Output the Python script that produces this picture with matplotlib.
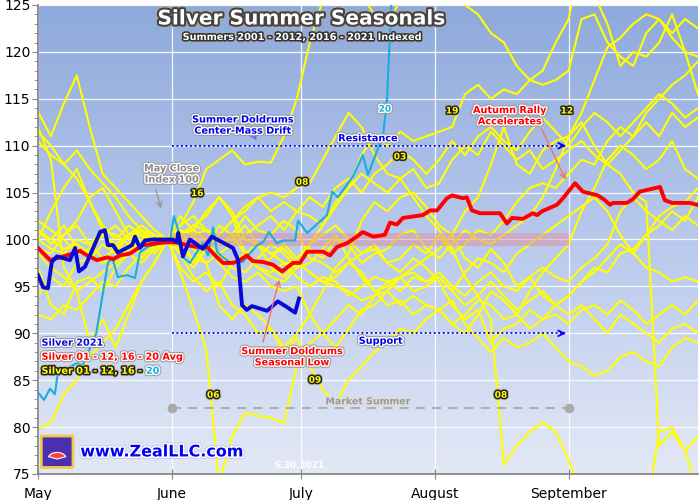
import matplotlib
matplotlib.use("Agg")
import matplotlib.pyplot as plt
import matplotlib.patheffects as pe
import numpy as np
from matplotlib.colors import LinearSegmentedColormap
from matplotlib.patches import FancyBboxPatch, Wedge

# x positions are calendar days after the last April close (May 1 = 0)
month_ticks = [0, 31, 61, 92, 123]
month_labels = ["May", "June", "July", "August", "September"]

# yellow years share one coarse grid, every 3 days
grid_days = list(range(0, 154, 3))

y01 = [99.0, 98.5, 100.5, 101.5, 99.5, 98.0, 99.0, 100.5, 101.0, 99.5, 100.0,
       99.0, 98.0, 99.5, 98.5, 97.5, 98.5, 97.0, 96.5, 97.5, 96.0,
       95.0, 96.0, 95.5, 94.0, 95.0, 96.0, 95.5, 94.5, 96.0, 95.5,
       96.5, 95.0, 94.0, 95.5, 96.5, 95.0, 94.5, 96.0, 97.0, 96.0,
       95.5, 97.0, 98.0, 99.5, 103.0, 104.5, 103.0, 102.0, 101.0, 102.5, 101.5]
y02 = [92.0, 91.5, 93.0, 92.5, 94.0, 95.5, 95.0, 97.0, 98.5, 99.0, 100.0,
       99.0, 98.0, 97.5, 98.5, 97.0, 96.5, 98.0, 99.5, 98.5, 97.0,
       97.5, 99.0, 100.5, 98.0, 96.0, 94.5, 93.0, 93.5, 92.0, 93.0,
       92.5, 91.0, 92.0, 93.5, 93.0, 91.5, 92.0, 90.5, 91.5, 92.0,
       91.0, 92.5, 93.0, 92.0, 93.5, 92.5, 91.0, 92.0, 93.0, 92.0, 93.5]
y03 = [102.0, 101.0, 100.0, 98.5, 99.0, 100.5, 99.5, 100.5, 101.0, 100.0, 100.0,
       101.0, 100.5, 99.0, 98.5, 99.5, 100.5, 101.5, 102.5, 101.0, 103.0,
       104.5, 103.5, 105.5, 106.5, 105.0, 107.0, 108.0, 109.5, 108.5, 107.0,
       108.5, 110.5, 109.0, 111.0, 112.0, 110.5, 109.5, 111.5, 113.0, 111.5,
       110.0, 112.0, 113.5, 112.5, 111.0, 112.5, 114.0, 115.5, 114.5, 113.0, 114.0]
y04 = [97.0, 93.0, 92.0, 95.5, 96.0, 94.5, 97.0, 98.5, 97.5, 99.0, 100.0,
       97.0, 95.5, 96.5, 95.0, 97.5, 98.5, 97.0, 96.0, 95.5, 97.0,
       99.5, 101.5, 104.0, 105.5, 107.0, 106.0, 105.0, 106.5, 107.5, 105.5,
       106.0, 108.5, 110.0, 109.0, 111.5, 110.0, 108.5, 109.5, 107.5, 108.5,
       109.5, 110.5, 109.0, 108.0, 109.5, 111.0, 112.5, 111.0, 113.5, 112.0, 113.0]
y05 = [94.0, 96.0, 95.0, 97.5, 98.0, 99.5, 98.5, 100.5, 101.5, 100.5, 100.0,
       99.0, 100.5, 101.0, 99.5, 100.0, 101.5, 99.5, 98.5, 99.0, 97.5,
       96.5, 95.5, 96.0, 97.5, 96.5, 94.5, 95.0, 96.0, 94.5, 95.0,
       96.0, 94.5, 93.0, 94.0, 95.5, 94.0, 92.5, 93.5, 94.5, 93.0,
       94.0, 95.5, 96.5, 98.0, 99.5, 98.5, 100.5, 101.5, 103.0, 102.0, 104.5]
y06 = [113.6, 111.0, 114.5, 117.5, 112.0, 107.0, 105.5, 104.0, 102.5, 101.0, 100.0,
       96.5, 92.5, 88.3, 74.0, 79.0, 81.5, 81.2, 81.0, 80.4, 86.5,
       89.0, 90.0, 91.5, 93.0, 92.0, 94.0, 95.5, 96.0, 97.0, 98.0,
       99.0, 100.5, 98.0, 97.0, 99.0, 97.5, 95.0, 96.0, 94.0, 93.0,
       92.0, 93.0, 91.5, 90.0, 92.0, 91.0, 90.0, 89.0, 90.5, 91.0, 90.0]
y07 = [101.0, 100.0, 101.5, 99.0, 98.5, 100.5, 101.5, 100.0, 101.0, 99.5, 100.0,
       101.5, 102.5, 101.0, 99.5, 100.5, 98.5, 97.5, 98.0, 99.5, 98.0,
       99.5, 100.5, 101.5, 100.0, 98.5, 99.5, 97.5, 96.5, 98.0, 97.0,
       95.5, 93.0, 91.5, 92.5, 89.0, 90.5, 91.0, 92.5, 91.5, 93.0,
       94.0, 95.5, 97.0, 96.5, 98.5, 99.0, 100.5, 102.5, 103.5, 104.0, 105.5]
y08 = [100.0, 103.0, 105.5, 107.5, 104.0, 101.0, 98.5, 99.5, 100.5, 98.5, 100.0,
       100.5, 97.5, 99.0, 100.5, 102.0, 103.0, 104.5, 105.0, 104.5, 105.5,
       106.0, 108.5, 111.0, 113.5, 112.0, 109.0, 107.0, 106.5, 104.5, 102.5,
       101.0, 99.0, 96.0, 94.0, 91.5, 76.0, 78.0, 79.5, 80.5, 79.5,
       76.5, 73.0, 70.0, 66.0, 64.0, 69.0, 71.0, 79.5, 80.0, 77.5, 73.0]
y09 = [79.8, 80.5, 83.5, 85.0, 87.5, 89.0, 90.5, 93.0, 95.5, 97.5, 100.0,
       98.5, 96.0, 94.5, 95.5, 93.0, 92.0, 90.0, 90.5, 88.0, 89.5,
       86.5, 84.0, 82.5, 85.0, 86.5, 88.0, 89.0, 90.5, 90.0, 91.5,
       92.5, 91.0, 90.0, 92.0, 94.5, 93.5, 92.0, 94.5, 96.5, 98.0,
       99.5, 103.0, 105.5, 108.5, 110.0, 109.0, 107.5, 108.5, 110.5, 107.5, 106.5]
y10 = [101.0, 99.5, 100.5, 102.0, 104.5, 105.5, 103.0, 100.5, 98.0, 99.5, 100.0,
       98.5, 97.0, 99.0, 101.5, 100.5, 102.5, 101.0, 100.5, 102.0, 101.0,
       98.0, 97.5, 96.5, 97.5, 98.5, 99.0, 97.5, 98.0, 99.5, 98.5,
       100.5, 98.5, 99.5, 101.0, 100.5, 102.0, 104.0, 105.5, 106.0, 105.5,
       107.0, 108.5, 108.0, 110.5, 112.0, 111.0, 113.5, 115.0, 116.5, 117.5, 119.0]
y11 = [112.0, 108.5, 97.0, 94.5, 89.0, 91.5, 88.5, 92.0, 95.5, 97.5, 100.0,
       101.0, 99.0, 97.5, 93.0, 91.5, 93.0, 92.0, 90.5, 88.5, 90.0,
       92.0, 94.5, 97.0, 98.5, 102.0, 104.0, 103.0, 104.5, 105.0, 103.5,
       101.5, 100.5, 103.0, 104.5, 108.0, 112.0, 108.0, 107.0, 109.5, 110.5,
       111.0, 112.5, 110.0, 108.0, 107.0, 105.0, 104.0, 78.0, 79.5, 77.5, 79.0]
y12 = [111.5, 110.0, 108.0, 106.5, 104.0, 101.5, 100.0, 101.5, 100.5, 99.5, 100.0,
       102.5, 101.0, 103.0, 104.5, 102.5, 98.5, 99.5, 97.0, 96.0, 97.5,
       99.0, 98.0, 100.0, 99.5, 97.5, 98.5, 99.0, 100.5, 101.0, 99.0,
       98.0, 99.5, 101.0, 100.0, 99.5, 100.5, 101.5, 102.5, 104.5, 107.5,
       111.0, 113.5, 117.0, 120.5, 121.5, 123.0, 124.0, 123.5, 122.0, 123.5, 122.5]
y16 = [110.5, 109.0, 108.0, 109.5, 107.5, 106.0, 104.5, 102.5, 101.0, 100.5, 100.0,
       101.5, 104.0, 107.5, 108.5, 109.5, 108.0, 108.3, 108.2, 111.0, 115.0,
       121.0, 125.5, 127.5, 128.0, 126.0, 124.0, 123.0, 125.5, 126.5, 127.0,
       128.5, 126.0, 125.0, 124.0, 122.0, 121.0, 118.5, 117.0, 116.5, 117.0,
       118.0, 123.5, 124.0, 121.0, 119.5, 118.5, 122.0, 123.5, 121.5, 120.0, 119.5]
y17 = [98.5, 97.0, 96.0, 94.5, 95.5, 96.5, 97.5, 98.5, 100.0, 99.5, 100.0,
       100.5, 101.0, 100.0, 97.5, 96.0, 95.5, 96.5, 95.0, 94.5, 95.0,
       92.0, 90.0, 88.5, 90.5, 92.5, 93.0, 94.5, 96.0, 96.5, 95.5,
       96.0, 94.5, 96.5, 98.0, 97.5, 96.5, 98.5, 99.5, 100.5, 101.5,
       102.5, 103.5, 104.5, 103.0, 100.5, 98.5, 97.0, 96.5, 95.5, 96.0, 95.5]
y18 = [100.0, 99.0, 98.5, 100.0, 99.5, 101.0, 100.5, 99.5, 101.0, 99.0, 100.0,
       100.5, 101.5, 102.5, 104.5, 103.0, 100.0, 99.5, 98.5, 97.5, 97.5,
       96.5, 95.5, 95.0, 94.5, 93.5, 94.0, 94.5, 93.0, 94.0, 93.0,
       92.5, 93.5, 91.0, 89.5, 88.0, 89.5, 88.5, 89.0, 90.0, 88.5,
       87.0, 86.5, 85.5, 86.0, 87.5, 88.0, 87.0, 86.5, 88.5, 89.5, 89.0]
y19 = [101.0, 100.0, 99.0, 99.5, 98.5, 97.5, 98.0, 99.0, 99.5, 100.5, 100.0,
       100.5, 101.5, 101.0, 100.5, 102.0, 103.5, 104.5, 103.0, 104.0, 103.0,
       102.5, 101.5, 103.5, 105.5, 109.0, 111.0, 110.0, 111.5, 110.5, 111.0,
       111.5, 112.0, 115.5, 116.5, 115.0, 116.0, 115.5, 117.0, 118.0, 121.0,
       123.5, 130.0, 126.0, 123.0, 118.5, 120.0, 119.5, 121.0, 124.0, 120.0, 115.5]
yellow_years = [y01, y02, y03, y04, y05, y06, y07, y08, y09, y10, y11, y12,
                y16, y17, y18, y19]

# 2020, cyan
s20_days = [0, 1.4, 2.8, 3.9, 4.6, 9.0, 10.4, 13.5, 16.2, 17.2, 18.5, 20.6,
            22.5, 23.6, 25.3, 30.6, 31.5, 32.5, 33.6, 35.2, 38.2, 39.4, 40.6,
            41.5, 42.9, 44.5, 47.5, 48.7, 50.8, 52.2, 53.5, 55.4, 56.8, 59.6,
            60.3, 62.4, 67.0, 68.2, 69.5, 73.0, 75.3, 76.5, 79.3, 80.0, 80.9,
            82.1]
s20_vals = [83.7, 82.9, 84.1, 83.5, 85.8, 86.8, 86.6, 90.0, 97.5, 98.1, 96.0, 96.2,
            95.9, 98.6, 99.2, 99.9, 102.5, 101.0, 98.1, 97.5, 99.6, 98.3, 101.3,
            98.7, 98.1, 97.6, 97.6, 98.3, 99.4, 99.7, 100.8, 99.6, 99.9, 99.9,
            102.0, 100.7, 102.6, 105.1, 104.5, 106.7, 109.0, 106.9, 110.3, 111.1, 114.9,
            127.0]

# 2001-2012, 2016-2020 average, red
avg_days = [0, 2.8, 5.1, 8.1, 9.7, 11.4, 13.7, 16.0, 17.4, 19.0, 21.3, 24.3,
            27.6, 29.9, 32.2, 34.5, 36.9, 39.2, 41.5, 42.9, 45.2, 46.8, 48.4,
            49.8, 52.2, 54.5, 56.6, 59.1, 60.7, 62.4, 66.1, 67.7, 69.3, 71.6,
            73.9, 75.3, 77.7, 80.4, 81.6, 83.2, 84.6, 89.2, 90.9, 92.5, 94.8,
            96.0, 98.5, 99.4, 100.6, 102.5, 104.8, 107.1, 108.7, 109.9, 112.4,
            114.7, 115.7, 116.8, 120.3, 121.7, 124.5, 126.3, 129.8, 131.4, 132.6,
            133.3, 136.5, 137.9, 139.5, 144.2, 145.3, 147.0, 151.1, 152.8]
avg_vals = [99.1, 97.8, 98.1, 98.5, 98.8, 98.3, 97.8, 98.1, 97.9, 98.3, 98.5, 99.4,
            99.6, 99.7, 99.7, 99.4, 99.2, 99.2, 98.1, 97.5, 97.5, 97.8, 98.3,
            97.7, 97.6, 97.3, 96.6, 97.5, 97.5, 98.7, 98.7, 98.3, 99.2, 99.6,
            100.3, 100.8, 100.3, 100.5, 101.8, 101.6, 102.3, 102.6, 103.1, 103.1, 104.4,
            104.7, 104.4, 104.5, 103.1, 102.8, 102.8, 102.8, 101.7, 102.3, 102.2,
            102.8, 102.6, 103.0, 103.7, 104.4, 106.0, 105.1, 104.7, 104.2, 103.7,
            103.9, 103.9, 104.3, 105.1, 105.6, 104.2, 103.9, 103.9, 103.7]

# 2021, blue
s21_days = [0, 1.2, 2.3, 3.2, 4.4, 7.4, 8.6, 9.5, 10.9, 14.4, 15.5, 16.2,
            17.4, 18.5, 21.8, 22.5, 23.6, 24.8, 26.4, 31.3, 32.2, 32.5, 33.6,
            35.2, 38.2, 40.3, 45.2, 46.4, 47.3, 48.4, 49.6, 53.1, 55.6, 57.7,
            59.6, 60.5]
s21_vals = [96.2, 94.9, 94.8, 97.6, 98.2, 97.8, 99.1, 96.6, 97.1, 100.8, 101.0, 99.4,
            99.4, 98.6, 99.4, 100.3, 99.1, 99.9, 100.0, 100.0, 99.7, 100.7, 98.2,
            100.0, 99.0, 100.3, 99.1, 97.8, 93.0, 92.5, 92.9, 92.4, 93.4, 92.8,
            92.2, 93.7]

# reference levels
summer_start, summer_end = 31, 123
resistance, support, market_summer = 110, 90, 82

fig = plt.figure(figsize=(7, 5), dpi=100)
ax = fig.add_axes([38 / 700, 26 / 500, 660 / 700, 469 / 500])
ax.set_xlim(0, 153)
ax.set_ylim(75, 125)

bg = LinearSegmentedColormap.from_list("bg", ["#e3e8f5", "#b8c9ec", "#8ea9dc"])
ax.imshow(np.linspace(0, 1, 256).reshape(-1, 1), cmap=bg, origin="lower",
          extent=[0, 153, 75, 125], aspect="auto", zorder=0)

ax.set_axisbelow(True)
ax.set_xticks(month_ticks)
ax.set_xticklabels(month_labels)
ax.set_yticks(range(75, 126, 5))
ax.set_yticks(range(75, 126), minor=True)
ax.grid(True, which="major", color="white", lw=0.9, alpha=0.9)
for s in ["top", "right"]:
    ax.spines[s].set_visible(False)
for s in ["left", "bottom"]:
    ax.spines[s].set_color("#888888")
    ax.spines[s].set_linewidth(1.3)
ax.tick_params(axis="y", which="major", direction="out", length=4, color="#888888",
               labelsize=10, pad=1.5)
ax.tick_params(axis="y", which="minor", direction="out", length=3, color="#888888")
ax.tick_params(axis="x", direction="inout", length=7, color="#888888", labelsize=10, pad=6)

for ys in yellow_years:
    ax.plot(grid_days, ys, color="#ffff00", lw=1.5, zorder=2, clip_on=True)

ax.fill_between([summer_start, summer_end], 99.3, 100.7, color="#e08898", alpha=0.45,
                lw=0, zorder=2.5)

ax.plot(s20_days, s20_vals, color="#18aee0", lw=1.5, zorder=3)
ax.plot(avg_days, avg_vals, color="#ff0000", lw=2.8, zorder=4)
ax.plot(s21_days, s21_vals, color="#0a0ad8", lw=2.8, zorder=5)

# resistance / support guides
for lvl in [resistance, support]:
    ax.plot([summer_start, summer_end - 1], [lvl, lvl], color="#0000ee", lw=1.3,
            ls=(0, (1, 1.5)), zorder=6)
    ax.annotate("", xy=(summer_end, lvl), xytext=(summer_end - 2, lvl),
                arrowprops=dict(arrowstyle="->", color="#0000ee", lw=1.3), zorder=6)

ax.plot([summer_start, summer_end], [market_summer, market_summer], color="#a8a8a8",
        lw=1.3, ls=(0, (5, 4)), zorder=6)
ax.plot([summer_start, summer_end], [market_summer, market_summer], "o", color="#aaaaaa",
        ms=6, zorder=6)

halo = [pe.Stroke(linewidth=3.4, foreground="#9a9a9a"), pe.Stroke(linewidth=2.0, foreground="white"),
        pe.Normal()]
dark = [pe.Stroke(linewidth=3.4, foreground="#bbbbbb"), pe.Stroke(linewidth=2.2, foreground="#222222"),
        pe.Normal()]


def note(x, y, s, color, size=7, effects=halo, **kw):
    t = ax.text(x, y, s, color=color, fontsize=size, fontweight="bold", ha="center",
                va="center", zorder=10, linespacing=1.15, **kw)
    t.set_path_effects(effects)
    return t


note(47.5, 112.2, "Summer Doldrums\nCenter-Mass Drift", "#0000ee")
ax.annotate("", xy=(51.0, 110.3), xytext=(49.2, 111.7),
            arrowprops=dict(arrowstyle="->", color="#6a6ae8", lw=1.0), zorder=9)
note(76.5, 110.8, "Resistance", "#0000ee")
note(79.5, 89.2, "Support", "#0000ee")
note(31.0, 107.0, "May Close\nIndex 100", "#8a8a8a", effects=halo)
ax.annotate("", xy=(28.7, 103.0), xytext=(27.2, 105.6),
            arrowprops=dict(arrowstyle="->", color="#9a9a9a", lw=1.0), zorder=9)
note(109.4, 113.2, "Autumn Rally\nAccelerates", "#ff0000")
ax.annotate("", xy=(122.6, 106.1), xytext=(116.4, 112.1),
            arrowprops=dict(arrowstyle="->", color="#f07070", lw=1.0), zorder=9)
note(58.9, 87.5, "Summer Doldrums\nSeasonal Low", "#ff0000")
ax.annotate("", xy=(56.1, 96.0), xytext=(52.0, 88.8),
            arrowprops=dict(arrowstyle="->", color="#f07070", lw=1.0), zorder=9)
note(76.5, 82.7, "Market Summer", "#9a9a9a", size=6.8,
     effects=[pe.Stroke(linewidth=2.2, foreground="#dddddd"), pe.Normal()])

# year tags
for x, y, s in [(36.9, 104.9, "16"), (61.2, 106.1, "08"), (83.9, 108.8, "03"),
                (96.0, 113.7, "19"), (122.6, 113.7, "12"), (40.6, 83.4, "06"),
                (64.2, 85.0, "09"), (107.3, 83.4, "08")]:
    note(x, y, s, "#ffff00", size=6.5, effects=dark)
note(80.4, 113.9, "20", "#18aee0", size=6.5)

# legend text
leg1 = ax.text(0.8, 89.0, "Silver 2021", color="#0a0ad8", fontsize=7, fontweight="bold",
               ha="left", va="center", zorder=10)
leg1.set_path_effects(halo)
leg2 = ax.text(0.8, 87.5, "Silver 01 - 12, 16 - 20 Avg", color="#ff0000", fontsize=7,
               fontweight="bold", ha="left", va="center", zorder=10)
leg2.set_path_effects(halo)
leg3 = ax.text(0.8, 86.0, "Silver 01 - 12, 16 - ", color="#ffff00", fontsize=7,
               fontweight="bold", ha="left", va="center", zorder=10)
leg3.set_path_effects(dark)
leg4 = ax.annotate("20", xy=(1, 0), xycoords=leg3, color="#18aee0", fontsize=7,
                   fontweight="bold", ha="left", va="bottom", zorder=10)
leg4.set_path_effects(halo)

# logo and site
logo = FancyBboxPatch((0.007, 0.016), 0.044, 0.063, boxstyle="round,pad=0.002",
                      transform=ax.transAxes, facecolor="#4a2fb0", edgecolor="#f2c84a",
                      lw=2, zorder=10)
ax.add_patch(logo)
ax.add_patch(Wedge((0.029, 0.032), 0.014, 20, 160, transform=ax.transAxes,
                   facecolor="#ff4040", edgecolor="white", lw=0.8, zorder=11))
site = ax.text(0.064, 0.047, "www.ZealLLC.com", transform=ax.transAxes, color="#0000ee",
               fontsize=11.5, fontweight="bold", ha="left", va="center", zorder=10)
site.set_path_effects([pe.Stroke(linewidth=3.5, foreground="#c8c8f0"),
                       pe.Stroke(linewidth=2.2, foreground="white"), pe.Normal()])
ax.text(0.396, 0.019, "6.30.2021", transform=ax.transAxes, color="white", fontsize=6.5,
        fontweight="bold", ha="center", va="center", zorder=10)

title = fig.text(302 / 700, 1 - 19 / 500, "Silver Summer Seasonals", color="white",
                 fontsize=14.5, fontweight="bold", ha="center", va="center", zorder=20)
title.set_path_effects([pe.Stroke(linewidth=4.5, foreground="#aaaaaa"),
                        pe.Stroke(linewidth=3.0, foreground="#444444"), pe.Normal()])
sub = fig.text(302 / 700, 1 - 37 / 500, "Summers 2001 - 2012, 2016 - 2021 Indexed",
               color="white", fontsize=7, fontweight="bold", ha="center", va="center",
               zorder=20)
sub.set_path_effects([pe.Stroke(linewidth=3.2, foreground="#aaaaaa"),
                      pe.Stroke(linewidth=2.2, foreground="#333333"), pe.Normal()])

fig.savefig("out.png", dpi=100)
plt.close(fig)
